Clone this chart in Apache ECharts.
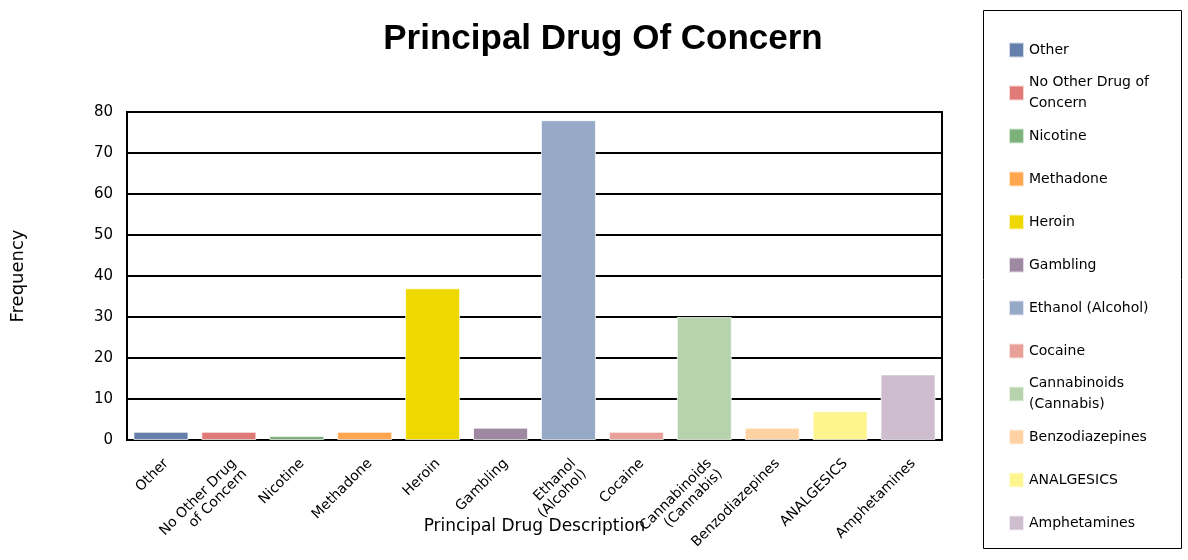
<!DOCTYPE html>
<html>
<head>
<meta charset="utf-8">
<script src="https://cdn.jsdelivr.net/npm/echarts@6/dist/echarts.min.js"></script>
<style>
  html, body { margin: 0; padding: 0; background: #fff; }
  #chart { width: 1188px; height: 560px; }
</style>
</head>
<body>
<div id="chart"></div>
<script>
// Principal drug of concern: frequency of each drug category
const categories = [
  'Other', 'No Other Drug of Concern', 'Nicotine', 'Methadone', 'Heroin', 'Gambling',
  'Ethanol (Alcohol)', 'Cocaine', 'Cannabinoids (Cannabis)', 'Benzodiazepines',
  'ANALGESICS', 'Amphetamines'
];
// Axis labels wrap the longer names onto two lines
const axisLabels = [
  'Other', 'No Other Drug\nof Concern', 'Nicotine', 'Methadone', 'Heroin', 'Gambling',
  'Ethanol\n(Alcohol)', 'Cocaine', 'Cannabinoids\n(Cannabis)', 'Benzodiazepines',
  'ANALGESICS', 'Amphetamines'
];
// Legend text, also wrapped for the long entries
const legendLabels = [
  'Other', 'No Other Drug of\nConcern', 'Nicotine', 'Methadone', 'Heroin', 'Gambling',
  'Ethanol (Alcohol)', 'Cocaine', 'Cannabinoids\n(Cannabis)', 'Benzodiazepines',
  'ANALGESICS', 'Amphetamines'
];
const frequencies = [2, 2, 1, 2, 37, 3, 78, 2, 30, 3, 7, 16];
const colors = [
  '#6580ab', '#e07a76', '#7db27a', '#ffa64f', '#eed800', '#9e88a2',
  '#96aac8', '#e8a098', '#b6d3ae', '#ffd2a4', '#fff58e', '#cdbdcf'
];
const yTicks = { min: 0, max: 80, interval: 10 };

const TITLE_FONT = '"Liberation Sans", Arial, sans-serif';
const FONT = '"DejaVu Sans", Verdana, sans-serif';

// One series per category so each gets its own legend entry;
// stacking keeps every bar centred on its category.
const series = categories.map((name, i) => ({
  name: name,
  type: 'bar',
  stack: 'drugs',
  barWidth: '81%',
  itemStyle: { color: colors[i], borderColor: 'rgba(255,255,255,0.7)', borderWidth: 1 },
  data: categories.map((_, j) => (j === i ? frequencies[i] : '-'))
}));

// Every legend row gets the same height (two text lines), so single-line
// entries are padded to match the wrapped ones.
const LEGEND_LINE = 21.5;
const legendData = categories.map((name, i) => {
  const twoLine = legendLabels[i].indexOf('\n') >= 0;
  const pad = twoLine ? 0 : LEGEND_LINE / 2;
  return { name: name, textStyle: { padding: [pad, 0, pad, 0] } };
});

const chart = echarts.init(document.getElementById('chart'), null, { renderer: 'canvas' });
chart.setOption({
  animation: false,
  backgroundColor: '#fff',
  color: colors,
  title: {
    text: 'Principal Drug Of Concern',
    left: 598, top: 17, textAlign: 'center',
    textStyle: { fontFamily: TITLE_FONT, fontSize: 35, fontWeight: 'bold', color: '#000' }
  },
  graphic: [{
    type: 'rect',
    shape: { x: 983.5, y: 10.5, width: 198, height: 538 },
    style: { fill: 'none', stroke: '#000', lineWidth: 1 },
    silent: true
  }],
  legend: {
    orient: 'vertical',
    left: 1003, top: 23.5,
    itemWidth: 15, itemHeight: 15, itemGap: 0,
    icon: 'rect',
    textStyle: { fontFamily: FONT, fontSize: 14, color: '#000', lineHeight: LEGEND_LINE },
    formatter: name => legendLabels[categories.indexOf(name)],
    data: legendData
  },
  grid: {
    left: 127, right: 246, top: 112, bottom: 120,
    containLabel: false,
    outerBoundsMode: 'none',
    show: true, borderColor: '#000', borderWidth: 2, backgroundColor: '#fff'
  },
  xAxis: {
    type: 'category',
    data: categories,
    name: 'Principal Drug Description',
    nameLocation: 'middle',
    nameGap: 78,
    nameMoveOverlap: false,
    nameTextStyle: { fontFamily: FONT, fontSize: 17, color: '#000' },
    axisLine: { lineStyle: { color: '#000', width: 2 } },
    axisTick: { show: false },
    axisLabel: {
      interval: 0, rotate: 45, margin: 16,
      verticalAlign: 'top',
      fontFamily: FONT, fontSize: 14, color: '#000', lineHeight: 15,
      formatter: (v, i) => axisLabels[i]
    }
  },
  yAxis: {
    type: 'value',
    min: yTicks.min, max: yTicks.max, interval: yTicks.interval,
    name: 'Frequency',
    nameLocation: 'middle',
    nameGap: 100,
    nameRotate: 90,
    nameMoveOverlap: false,
    nameTextStyle: { fontFamily: FONT, fontSize: 18, color: '#000' },
    axisLine: { show: true, lineStyle: { color: '#000', width: 2 } },
    axisTick: { show: false },
    axisLabel: { fontFamily: FONT, fontSize: 15, color: '#000', margin: 14 },
    splitLine: { lineStyle: { color: '#000', width: 2 } }
  },
  series: series
});
</script>
</body>
</html>
